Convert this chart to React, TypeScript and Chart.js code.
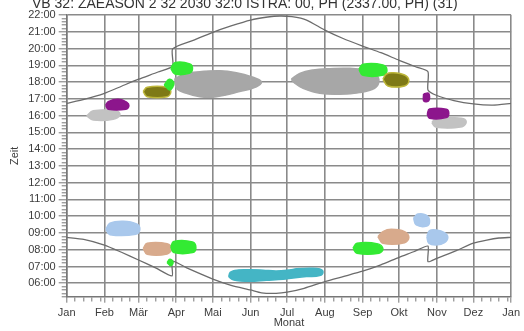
import React, { useEffect, useRef } from 'react';
import { Chart, registerables } from 'chart.js';

Chart.register(...registerables);

const FONT = '"Liberation Sans", Arial, sans-serif';

const titleText = 'VB 32: ZAEASON 2 32 2030 32:0 ISTRA: 00, PH (2337.00, PH) (31)';
const monthLabels = ['Jan', 'Feb', 'Mär', 'Apr', 'Mai', 'Jun', 'Jul', 'Aug', 'Sep', 'Okt', 'Nov', 'Dez', 'Jan'];
const monthStartDays = [0, 31, 59, 90, 120, 151, 181, 212, 243, 273, 304, 334, 365];
const hourTicks = [6, 7, 8, 9, 10, 11, 12, 13, 14, 15, 16, 17, 18, 19, 20, 21, 22];
const hourLabels = ['06:00', '07:00', '08:00', '09:00', '10:00', '11:00', '12:00', '13:00', '14:00', '15:00', '16:00', '17:00', '18:00', '19:00', '20:00', '21:00', '22:00'];

// Sunset curve (day of year, hour)
const sunsetDays = [0, 15, 31, 45, 59, 75, 87, 87, 105, 120, 135, 151, 165, 175, 185, 197, 212, 227, 243, 258, 273, 287, 296.7, 296.7, 304, 318, 334, 350, 365];
const sunsetHours = [16.73, 16.98, 17.33, 17.75, 18.17, 18.6, 18.95, 19.98, 20.52, 20.97, 21.35, 21.7, 21.88, 21.94, 21.9, 21.7, 21.1, 20.6, 20.15, 19.75, 19.3, 18.9, 18.62, 17.53, 17.2, 16.9, 16.7, 16.63, 16.73];

// Sunrise curve (day of year, hour)
const sunriseDays = [0, 14, 31, 45, 59, 73, 86.6, 86.6, 100, 120, 135, 151, 160, 172, 181, 195, 212, 227, 243, 258, 273, 285, 296.7, 296.7, 304, 320, 334, 345, 355, 365];
const sunriseHours = [8.74, 8.62, 8.28, 7.85, 7.39, 6.92, 6.44, 7.32, 6.87, 6.25, 5.88, 5.6, 5.43, 5.4, 5.47, 5.7, 6.1, 6.4, 6.72, 7.1, 7.55, 7.88, 8.22, 7.29, 7.49, 7.95, 8.39, 8.58, 8.7, 8.74];

// Observation clusters: outlines as [day, hour]
const grayFebEve = [[16.4, 15.98], [21.8, 16.29], [41, 16.28], [43.7, 16.04], [38.2, 15.78], [21.8, 15.74]];
const purpleFebEve = [[32, 16.62], [34.1, 16.83], [42.3, 16.97], [49.2, 16.81], [51.1, 16.59], [48.6, 16.38], [34.1, 16.38]];
const oliveMarEve = [[62.8, 17.43], [66.1, 17.69], [82.5, 17.69], [85.5, 17.43], [82.5, 17.13], [66.1, 17.13]];
const greenMarEveSmall = [[80.1, 17.83], [84.2, 18.17], [88, 17.93], [84.7, 17.53]];
const greenAprEve = [[85.5, 18.82], [88.8, 19.16], [101.1, 19.08], [103.3, 18.78], [100.6, 18.52], [88.8, 18.48]];
const graySpringEve = [[88.8, 18.22], [98.4, 18.52], [109.3, 18.62], [125.7, 18.68], [139.4, 18.56], [151.7, 18.32], [159.9, 18.02], [155.8, 17.72], [142.1, 17.43], [123, 17.13], [109.3, 17.13], [98.4, 17.33], [90.2, 17.63]];
const graySummerEve = [[184.5, 18.17], [191.4, 18.52], [202.3, 18.72], [216, 18.8], [232.4, 18.82], [246.1, 18.68], [254.3, 18.42], [256.4, 18.02], [252.9, 17.63], [240.6, 17.37], [224.2, 17.27], [207.8, 17.33], [194.1, 17.63], [187.3, 17.93]];
const greenSepEve = [[240, 18.76], [243.3, 19.06], [259.7, 19.02], [263, 18.72], [260.3, 18.42], [243.3, 18.4]];
const oliveOctEve = [[259.7, 18.17], [262.5, 18.48], [267.9, 18.56], [277.5, 18.42], [281, 18.08], [277.5, 17.77], [263.8, 17.77]];
const purpleOctEveSmall = [[293.1, 17.29], [297.2, 17.33], [297.4, 16.89], [293.3, 16.87]];
const purpleNovEve = [[296.1, 16.1], [298, 16.39], [311.7, 16.38], [313.8, 16.14], [311.7, 15.88], [298, 15.84]];
const grayNovEve = [[299.9, 15.58], [303.5, 15.84], [324, 15.84], [328.1, 15.64], [324.8, 15.34], [303.5, 15.3]];
const blueFebMorn = [[32.2, 9.22], [35.5, 9.58], [46.4, 9.7], [57.4, 9.54], [60.1, 9.22], [56.8, 8.92], [35.5, 8.9]];
const tanMarMorn = [[62.8, 8.07], [66.1, 8.39], [82.5, 8.36], [86.1, 8.07], [82.5, 7.75], [66.1, 7.73]];
const greenAprMorn = [[85.5, 8.18], [88, 8.5], [103.3, 8.46], [106.1, 8.12], [103.3, 7.83], [88, 7.83]];
const greenMarMornSmall = [[82.5, 7.23], [84.7, 7.43], [87.4, 7.27], [85.5, 7.05]];
const cyanSummerMorn = [[133.9, 6.63], [138, 6.77], [150.3, 6.8], [161.3, 6.78], [172.2, 6.74], [183.2, 6.8], [188.6, 6.86], [199.6, 6.9], [207.8, 6.86], [210.5, 6.68], [207.8, 6.46], [196.9, 6.4], [185.9, 6.32], [177.7, 6.24], [164, 6.18], [150.3, 6.12], [139.4, 6.16], [133.4, 6.38]];
const greenSepMorn = [[235.1, 8.09], [238.4, 8.39], [255.6, 8.35], [259.7, 8.05], [256.4, 7.79], [238.4, 7.79]];
const tanOctMorn = [[255.6, 8.78], [259.7, 9.08], [266.6, 9.22], [277.5, 9.08], [281, 8.74], [277.5, 8.42], [259.7, 8.39]];
const blueOctMorn = [[284.9, 9.88], [288.4, 10.13], [295.3, 10.07], [298, 9.73], [295.8, 9.42], [287.1, 9.48]];
const blueNovMorn = [[295.8, 8.78], [298, 9.14], [303.5, 9.18], [310.3, 9.02], [313, 8.74], [310.3, 8.42], [303.5, 8.29], [297.4, 8.39]];

const C_LGRAY = '#c2c2c2';
const C_GRAY = '#a7a7a7';
const C_PURPLE = '#8c168c';
const C_OLIVE = '#7e7916';
const C_GREEN = '#33ea33';
const C_BLUE = '#a9c8ec';
const C_TAN = '#d8aa8c';
const C_CYAN = '#44b5c5';

const blobTable: { pts: number[][]; color: string; border?: string; order: number }[] = [
  { pts: graySpringEve, color: C_GRAY, order: 5 },
  { pts: graySummerEve, color: C_GRAY, order: 5 },
  { pts: grayFebEve, color: C_LGRAY, order: 4 },
  { pts: grayNovEve, color: C_LGRAY, order: 4 },
  { pts: purpleFebEve, color: C_PURPLE, order: 2 },
  { pts: oliveMarEve, color: C_OLIVE, border: '#bdb63a', order: 2 },
  { pts: greenMarEveSmall, color: C_GREEN, order: 1 },
  { pts: greenAprEve, color: C_GREEN, order: 1 },
  { pts: greenSepEve, color: C_GREEN, order: 2 },
  { pts: oliveOctEve, color: C_OLIVE, border: '#bdb63a', order: 1 },
  { pts: purpleOctEveSmall, color: C_PURPLE, order: 1 },
  { pts: purpleNovEve, color: C_PURPLE, order: 1 },
  { pts: blueFebMorn, color: C_BLUE, order: 2 },
  { pts: tanMarMorn, color: C_TAN, order: 2 },
  { pts: greenAprMorn, color: C_GREEN, order: 1 },
  { pts: greenMarMornSmall, color: C_GREEN, order: 1 },
  { pts: cyanSummerMorn, color: C_CYAN, order: 2 },
  { pts: greenSepMorn, color: C_GREEN, order: 2 },
  { pts: tanOctMorn, color: C_TAN, order: 1 },
  { pts: blueOctMorn, color: C_BLUE, order: 2 },
  { pts: blueNovMorn, color: C_BLUE, order: 2 },
];

const GRID = '#8a8a8a';
const AXIS = '#777777';
const TEXT = '#3c3c3c';

const isMonth = (v: number) => monthStartDays.indexOf(v) >= 0;
const isHour = (v: number) => Math.abs(v - Math.round(v)) < 1e-6;

// Header line at the top; the picture shows only its lower part.
const headerPlugin = {
  id: 'cutHeader',
  afterDraw(chart: any) {
    const ctx = chart.ctx;
    ctx.save();
    ctx.font = `14px ${FONT}`;
    ctx.fillStyle = '#333';
    ctx.textAlign = 'left';
    ctx.textBaseline = 'alphabetic';
    ctx.fillText(titleText, 32, 15.5);
    ctx.restore();
  },
};

export default function App() {
  const ref = useRef<HTMLCanvasElement>(null);

  useEffect(() => {
    if (!ref.current) return;

    const blobDatasets = blobTable.map((b) => {
      const closed = [...b.pts, b.pts[0]];
      return {
        type: 'scatter' as const,
        data: closed.map(([x, y]) => ({ x, y })),
        showLine: true,
        fill: 'shape',
        tension: 0.4,
        backgroundColor: b.color,
        borderColor: b.border || b.color,
        borderWidth: 1.5,
        pointRadius: 0,
        order: b.order,
      };
    });

    const curve = (days: number[], hours: number[]) => ({
      type: 'scatter' as const,
      data: days.map((d, i) => ({ x: d, y: hours[i] })),
      showLine: true,
      fill: false,
      tension: 0.2,
      borderColor: '#6c6c6c',
      borderWidth: 1.3,
      pointRadius: 0,
      order: 10,
    });

    const xTickValues: number[] = [];
    for (let m = 0; m < 12; m++) {
      const s = monthStartDays[m];
      const e = monthStartDays[m + 1];
      xTickValues.push(s);
      for (let k = 7; k < e - s - 2; k += 7) xTickValues.push(s + k);
    }
    xTickValues.push(365);

    const yTickValues: number[] = [];
    for (let i = 26; i <= 110; i++) yTickValues.push(i / 5);

    const chart = new Chart(ref.current, {
      type: 'scatter',
      data: { datasets: [...blobDatasets, curve(sunsetDays, sunsetHours), curve(sunriseDays, sunriseHours)] as any },
      plugins: [headerPlugin],
      options: {
        animation: false,
        responsive: false,
        devicePixelRatio: 1,
        layout: { padding: { left: 8, right: 12.3, top: 23, bottom: 0 } },
        plugins: {
          legend: { display: false },
          tooltip: { enabled: false },
          title: { display: false },
        },
        scales: {
          x: {
            type: 'linear',
            position: 'bottom',
            min: 0,
            max: 365,
            afterBuildTicks: (s: any) => {
              s.ticks = xTickValues.map((v) => ({ value: v }));
            },
            afterFit: (s: any) => {
              s.height = 34.3;
            },
            ticks: {
              autoSkip: false,
              maxRotation: 0,
              minRotation: 0,
              padding: 4,
              color: TEXT,
              font: { family: FONT, size: 11 },
              callback: (v: any) => {
                const i = monthStartDays.indexOf(Number(v));
                return i >= 0 ? monthLabels[i] : '';
              },
            },
            grid: {
              color: (c: any) => (c.tick && !isMonth(c.tick.value) ? 'rgba(0,0,0,0)' : GRID),
              lineWidth: 1.6,
              tickColor: AXIS,
              tickLength: 6,
              tickWidth: 1,
              tickBorderDash: (c: any) => (c.tick && isMonth(c.tick.value) ? [6, 100] : [4, 100]),
            },
            border: { display: true, color: AXIS, width: 1.5 },
            title: {
              display: true,
              text: 'Monat',
              color: TEXT,
              font: { family: FONT, size: 11 },
              padding: { top: 0, bottom: 1 },
            },
          },
          y: {
            type: 'linear',
            position: 'left',
            min: 5.2,
            max: 22,
            afterBuildTicks: (s: any) => {
              s.ticks = yTickValues.map((v) => ({ value: v }));
            },
            afterFit: (s: any) => {
              s.width = 58.7;
            },
            ticks: {
              autoSkip: false,
              padding: 3,
              color: TEXT,
              font: { family: FONT, size: 11 },
              callback: (v: any) => {
                const n = Number(v);
                if (!isHour(n)) return '';
                const i = hourTicks.indexOf(Math.round(n));
                return i >= 0 ? hourLabels[i] : '';
              },
            },
            grid: {
              color: (c: any) => (c.tick && !isHour(c.tick.value) ? 'rgba(0,0,0,0)' : GRID),
              lineWidth: 1.6,
              tickColor: AXIS,
              tickLength: 8,
              tickWidth: 1,
              tickBorderDash: [8, 100],
              tickBorderDashOffset: (c: any) => (c.tick && isHour(c.tick.value) ? 0 : 105),
            },
            border: { display: true, color: AXIS, width: 1.5 },
            title: {
              display: true,
              text: 'Zeit',
              color: TEXT,
              font: { family: FONT, size: 11 },
              padding: { top: 0.5, bottom: 0 },
            },
          },
        },
      } as any,
    });

    return () => chart.destroy();
  }, []);

  return (
    <div style={{ position: 'absolute', left: 0, top: -8, width: 524, height: 339, background: '#fff' }}>
      <canvas ref={ref} width={524} height={339} style={{ display: 'block', width: 524, height: 339 }} />
    </div>
  );
}
